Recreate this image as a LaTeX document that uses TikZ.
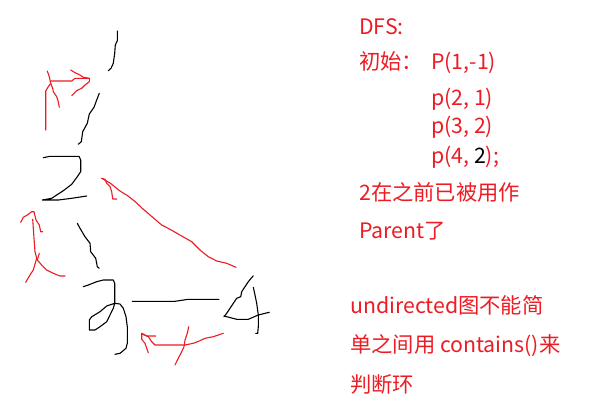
\documentclass[tikz,border=0pt]{standalone}
\usepackage{fontspec}
\newfontfamily\cjk{Noto Sans CJK SC}
\definecolor{pen}{RGB}{237,28,36}
\definecolor{ink}{RGB}{0,0,0}
\begin{document}
\begin{tikzpicture}[x=1pt,y=-1pt,
  blk/.style={draw=ink,line width=1.1pt,line join=round,line cap=round},
  rd/.style={draw=pen,line width=1.1pt,line join=round,line cap=round},
  txt/.style={anchor=base west,inner sep=0pt,text=pen,font=\cjk\fontsize{21.3}{25}\selectfont}]
\useasboundingbox[fill=white] (0,0) rectangle (607,415);
% vertex 1 edge strokes (black)
\draw[blk] (117.3,31) -- (117.3,40.7) -- (115.3,45) -- (114.7,53.3) -- (113.3,63.3) -- (111,68.3) -- (108.3,70.7);
\draw[blk] (99.3,93.3) -- (96.7,100) -- (94,107.3) -- (89.3,114) -- (87.3,123.3) -- (82.7,131.7) -- (81.3,141.7) -- (78.3,144.3);
% digit 2
\draw[blk] (43.3,157.7) -- (50,156.3) -- (79,156.3) -- (80.7,160) -- (80.7,171.7) -- (77.3,176.7) -- (71.7,184.3) -- (63.3,190.7) -- (56.7,195) -- (51.7,198.3) -- (42.3,200) -- (58.3,200) -- (71.7,198.3) -- (86.7,196);
% edge 2-3
\draw[blk] (77.3,223.3) -- (80,228.3) -- (85,236.7) -- (90,243.3) -- (90.7,251.7) -- (95.7,258.3) -- (97.3,266.7) -- (99.3,268.3);
% digit 3
\draw[blk] (83.3,286.7) -- (88.3,285) -- (96.7,281.7) -- (103.3,280) -- (113.3,280) -- (114.7,283.3) -- (114.7,303.3)
  -- (106.7,306) -- (100,311.7) -- (91.7,316.7) -- (89.3,320) -- (89.3,330) -- (95,330) -- (100,326.7) -- (106.7,321.7) -- (110,315) -- (113.3,308.3) -- (114.7,303.3)
  -- (120,304) -- (123.3,308.3) -- (126,316.7) -- (127.3,326.7) -- (127.3,343.3) -- (126,348.3) -- (120,353.3) -- (115,354.3);
% edge 3-4
\draw[blk] (132.3,301.3) -- (175,301.3) -- (188.3,299.3) -- (219,299.3);
% digit 4
\draw[blk] (253.3,275.7) -- (248.3,281.7) -- (245,286.7) -- (241.7,291.7) -- (240.7,296.7) -- (236.7,298.3) -- (233.3,303.3) -- (230,308.3) -- (226.7,313.3) -- (224,316.7);
\draw[blk] (224,316) -- (236.7,319.3) -- (248.3,319.3) -- (258.3,315) -- (269.3,312.3);
\draw[blk] (253.3,287.3) -- (255,295) -- (256.7,303.3) -- (258.3,315) -- (258.3,326.7) -- (257.7,333.3) -- (255.7,333.3);
% red arrow top-left
\draw[rd] (47.3,71) -- (49.3,76.7) -- (50.7,83.3) -- (48.3,86.7) -- (45.7,91) -- (45.7,130);
\draw[rd] (50.7,83.3) -- (52.7,88.3) -- (53.3,91.7) -- (56.7,96.7) -- (58.3,101.7) -- (59.3,107.3);
\draw[rd] (50.7,81) -- (71.7,81) -- (75,78.3) -- (89.3,78.3);
\draw[rd] (70.7,70) -- (75,72.7) -- (80,75) -- (83.3,77.3) -- (89.3,78.3) -- (89.3,81.7) -- (85,85) -- (81.7,88.3) -- (76.7,90.7) -- (71.7,95.7);
% red diagonal arrow (4 -> 2)
\draw[rd] (101.7,178.3) -- (110,183) -- (120,191) -- (128,196) -- (135,201.5) -- (143,209) -- (150,215) -- (161.7,225) -- (170,229.3) -- (181.7,236) -- (191.7,241.7) -- (200,250) -- (208.3,256.7) -- (216.7,261) -- (226.7,263.3) -- (236,267.3);
\draw[rd] (101.7,178.3) -- (105,179.3) -- (106.7,183.3) -- (110,186.7) -- (111.7,191.7) -- (112.7,199) -- (116.7,199);
% red left arrow (3 -> 2)
\draw[rd] (32.7,219.3) -- (34,238.3) -- (35,251.7) -- (36.7,258.3) -- (33.3,270) -- (30,275) -- (25.7,282.3);
\draw[rd] (20.7,222.3) -- (23.3,217.3) -- (27.3,215) -- (31.7,211.7) -- (34,211.7) -- (36,220) -- (39.3,225) -- (40.7,231.7) -- (42.7,231.7);
\draw[rd] (39.3,253.3) -- (37.3,260) -- (41.7,265) -- (46.7,270) -- (53.3,273.3) -- (60,276) -- (65,276);
% red bottom arrow (4 -> 3)
\draw[rd] (223.3,333.3) -- (213.3,336.7) -- (205,338.3) -- (200,340.7) -- (193.3,343.3) -- (185,345) -- (155,345) -- (151.7,341.7) -- (148.3,336.7) -- (141.7,333.3);
\draw[rd] (141.7,333.3) -- (141.7,339.3) -- (145,343.3) -- (146.7,348.3) -- (148.3,352.7);
\draw[rd] (141.7,334) -- (146.7,336) -- (155.7,336);
\draw[rd] (188.7,326.7) -- (187.3,333.3) -- (185,340) -- (184,346.7) -- (181.7,351.7) -- (178.3,358.3) -- (175,365);
% texts
\node[txt] (t1) at (359,34) {DFS:};
\node[txt] (t2) at (359,69) {初始：};
\node[txt] (t3) at (431,69) {P(1,-1)};
\node[txt] (t4) at (431,105) {p(2, 1)};
\node[txt] (t5) at (431,133) {p(3, 2)};
\node[txt] (t6) at (431,163) {p(4, \textcolor{ink}{2});};
\node[txt] (t7) at (359,200) {2在之前已被用作};
\node[txt] (t8) at (359,238) {Parent了};
\node[txt] (t9) at (350,313) {undirected图不能简};
\node[txt] (t10) at (350,352) {单之间用 contains()来};
\node[txt] (t11) at (350,392) {判断环};
\end{tikzpicture}
\end{document}
